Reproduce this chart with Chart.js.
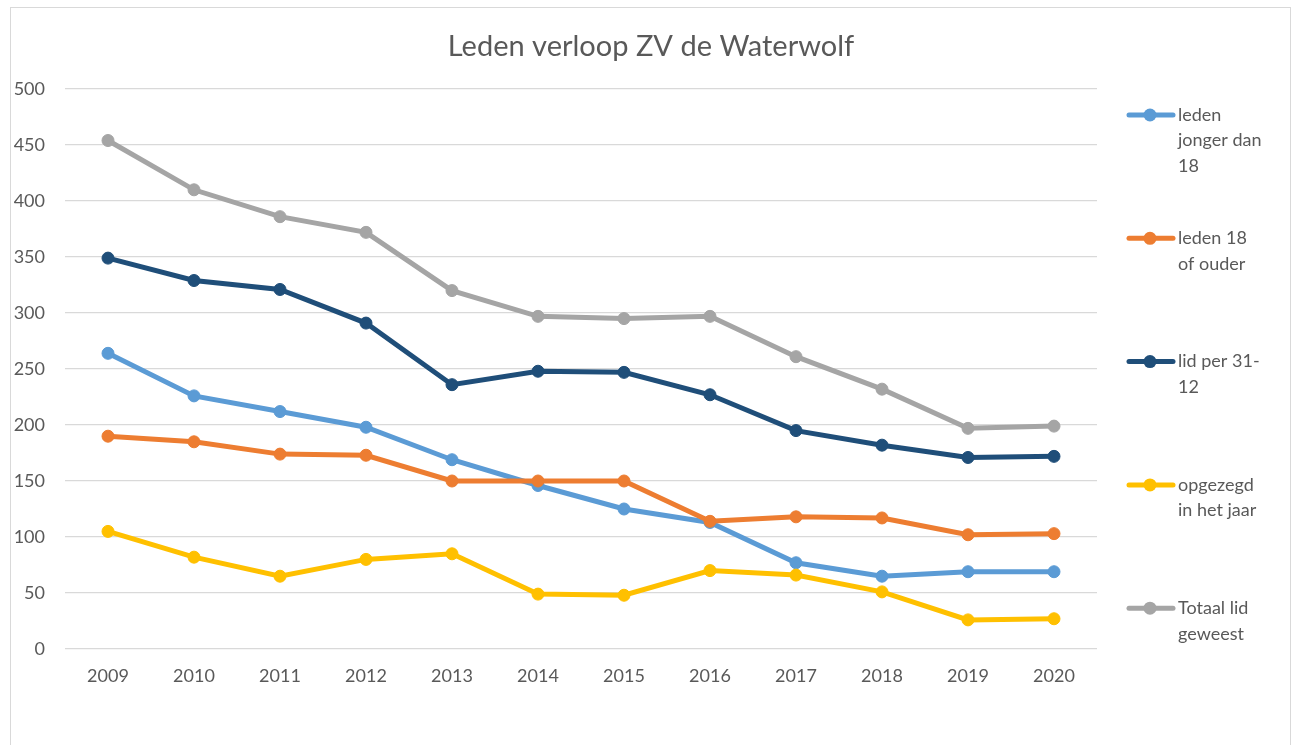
<!DOCTYPE html>
<html>
<head>
<meta charset="utf-8">
<script src="https://cdn.jsdelivr.net/npm/chart.js@4/dist/chart.umd.min.js"></script>
<style>
  html, body { margin: 0; padding: 0; background: #ffffff; }
  #wrap { width: 1298px; height: 745px; position: relative; }
</style>
</head>
<body>
<div id="wrap"><canvas id="c" width="1298" height="745"></canvas></div>
<script>
const years = ['2009','2010','2011','2012','2013','2014','2015','2016','2017','2018','2019','2020'];
const ledenJonger = [264, 226, 212, 198, 169, 146, 125, 113, 77, 65, 69, 69];
const ledenOuder  = [190, 185, 174, 173, 150, 150, 150, 114, 118, 117, 102, 103];
const lidPer3112  = [349, 329, 321, 291, 236, 248, 247, 227, 195, 182, 171, 172];
const opgezegd    = [105, 82, 65, 80, 85, 49, 48, 70, 66, 51, 26, 27];
const totaalLid   = [454, 410, 386, 372, 320, 297, 295, 297, 261, 232, 197, 199];
const seriesNames = ['leden jonger dan 18', 'leden 18 of ouder', 'lid per 31-12', 'opgezegd in het jaar', 'Totaal lid geweest'];
const legendLines = [['leden', 'jonger dan', '18'], ['leden 18', 'of ouder'], ['lid per 31-', '12'], ['opgezegd', 'in het jaar'], ['Totaal lid', 'geweest']];
const yTicks = [0, 50, 100, 150, 200, 250, 300, 350, 400, 450, 500];
const chartTitle = 'Leden verloop ZV de Waterwolf';

const colors = ['#5B9BD5', '#ED7D31', '#1F4E79', '#FFC000', '#A5A5A5'];
const seriesData = [ledenJonger, ledenOuder, lidPer3112, opgezegd, totaalLid];
const FONT = 'Lato, "Open Sans", sans-serif';
const TEXT = '#595959';

const frame = {
  id: 'frame',
  beforeDraw(chart) {
    const ctx = chart.ctx;
    ctx.save();
    ctx.fillStyle = '#ffffff';
    ctx.fillRect(0, 0, chart.width, chart.height);
    ctx.strokeStyle = '#d9d9d9';
    ctx.lineWidth = 1;
    ctx.strokeRect(10.5, 7.5, 1280, 800);
    ctx.fillStyle = TEXT;
    ctx.font = '29px ' + FONT;
    ctx.textAlign = 'center';
    ctx.textBaseline = 'middle';
    ctx.fillText(chartTitle, 651, 47);
    ctx.restore();
  }
};

const sideLegend = {
  id: 'sideLegend',
  afterDraw(chart) {
    const ctx = chart.ctx;
    const top = chart.chartArea.top;
    ctx.save();
    chart.data.datasets.forEach((ds, i) => {
      const cy = top + 26 + i * 123.3;
      ctx.strokeStyle = ds.borderColor;
      ctx.lineWidth = 5;
      ctx.lineCap = 'round';
      ctx.beginPath();
      ctx.moveTo(1129, cy);
      ctx.lineTo(1173, cy);
      ctx.stroke();
      ctx.fillStyle = ds.borderColor;
      ctx.beginPath();
      ctx.arc(1150, cy, 6.5, 0, Math.PI * 2);
      ctx.fill();
      ctx.fillStyle = TEXT;
      ctx.font = '18px ' + FONT;
      ctx.textAlign = 'left';
      ctx.textBaseline = 'middle';
      legendLines[i].forEach((ln, k) => {
        ctx.fillText(ln, 1178, cy + k * 25.5);
      });
    });
    ctx.restore();
  }
};

const datasets = seriesData.map((d, i) => ({
  label: seriesNames[i],
  data: d,
  borderColor: colors[i],
  backgroundColor: colors[i],
  borderWidth: 5,
  pointRadius: 6,
  pointBorderWidth: 1,
  pointBackgroundColor: colors[i],
  pointBorderColor: colors[i],
  tension: 0,
  order: seriesData.length - i
}));

new Chart(document.getElementById('c'), {
  type: 'line',
  data: { labels: years, datasets },
  options: {
    responsive: false,
    animation: false,
    layout: { padding: { left: 0, right: 201, top: 89, bottom: 0 } },
    plugins: {
      legend: { display: false },
      tooltip: { enabled: false },
      title: { display: false }
    },
    scales: {
      x: {
        offset: true,
        grid: { display: false, drawTicks: false },
        border: { display: false },
        ticks: { color: TEXT, font: { family: FONT, size: 18 }, padding: 16, maxRotation: 0 },
        afterFit(scale) { scale.height = 96; }
      },
      y: {
        min: 0,
        max: 500,
        afterBuildTicks(scale) { scale.ticks = yTicks.map(v => ({ value: v })); },
        grid: { color: '#d9d9d9', lineWidth: 1.3, drawTicks: false },
        border: { display: false },
        ticks: { color: TEXT, font: { family: FONT, size: 18 }, padding: 20 },
        afterFit(scale) { scale.width = 65; }
      }
    }
  },
  plugins: [frame, sideLegend]
});
</script>
</body>
</html>
